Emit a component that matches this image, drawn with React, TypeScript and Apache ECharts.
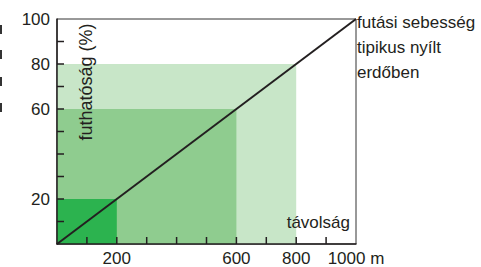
import React, { useEffect, useRef } from "react";
import * as echarts from "echarts";

const lineX = [0, 1000];
const lineY = [0, 100];
const zoneX = [800, 600, 200];
const zoneY = [80, 60, 20];
const zoneColors = ["#c8e6c8", "#8fcc8f", "#2cb34f"];
const xTicks = [100, 200, 300, 400, 500, 600, 700, 800, 900];
const yTicks = [10, 20, 30, 40, 50, 60, 70, 80, 90];
const xLabels: Record<number, string> = { 200: "200", 600: "600", 800: "800", 1000: "1000 m" };
const yLabels: Record<number, string> = { 20: "20", 60: "60", 80: "80", 100: "100" };
const noteLines = ["futási sebesség", "tipikus nyílt", "erdőben"];

export default function App() {
  const ref = useRef<HTMLDivElement>(null);
  useEffect(() => {
    const chart = echarts.init(ref.current!, undefined, { renderer: "svg" });
    const font = "Liberation Sans, Arial, sans-serif";
    const tickData = [
      ...xTicks.map((v) => [v, 0, 0]),
      ...yTicks.map((v) => [0, v, 1]),
    ];
    chart.setOption({
      animation: false,
      grid: { left: 57, right: 125, top: 19, bottom: 23, show: true, borderColor: "#333", borderWidth: 1 },
      xAxis: {
        type: "value", min: 0, max: 1000, interval: 100, z: 20,
        axisLine: { show: true, lineStyle: { color: "#231f20", width: 1.5 } },
        axisTick: { show: false },
        splitLine: { show: false },
        axisLabel: {
          formatter: (v: number) => xLabels[v] ?? "",
          color: "#231f20", fontSize: 17, fontFamily: font, margin: 6,
        },
      },
      yAxis: {
        type: "value", min: 0, max: 100, interval: 10, z: 20,
        axisLine: { show: true, lineStyle: { color: "#231f20", width: 1.5 } },
        axisTick: { show: false },
        splitLine: { show: false },
        axisLabel: {
          formatter: (v: number) => yLabels[v] ?? "",
          color: "#231f20", fontSize: 17, fontFamily: font, margin: 7,
        },
      },
      series: [
        {
          type: "custom",
          z: 1,
          silent: true,
          clip: false,
          data: zoneX.map((x, i) => [x, zoneY[i], i]),
          renderItem: (_params: any, api: any) => {
            const p0 = api.coord([0, 0]);
            const p1 = api.coord([api.value(0), api.value(1)]);
            return {
              type: "rect",
              shape: { x: p0[0], y: p1[1], width: p1[0] - p0[0], height: p0[1] - p1[1] },
              style: { fill: zoneColors[api.value(2)] },
            };
          },
        },
        {
          type: "line",
          data: lineX.map((x, i) => [x, lineY[i]]),
          showSymbol: false,
          lineStyle: { color: "#231f20", width: 2 },
          z: 5,
        },
        {
          type: "custom",
          z: 8,
          silent: true,
          clip: false,
          data: tickData,
          renderItem: (_params: any, api: any) => {
            const p = api.coord([api.value(0), api.value(1)]);
            const vertical = api.value(2) === 0;
            return {
              type: "rect",
              shape: vertical
                ? { x: p[0] - 0.75, y: p[1] - 7, width: 1.5, height: 7 }
                : { x: p[0], y: p[1] - 0.75, width: 7, height: 1.5 },
              style: { fill: "#231f20" },
            };
          },
        },
      ],
      graphic: [
        {
          type: "text", x: 86, y: 82, rotation: Math.PI / 2,
          style: { text: "futhatóság (%)", fill: "#231f20", font: `18px ${font}`, align: "center", verticalAlign: "middle" },
          z: 10,
        },
        {
          type: "text", x: 350, y: 222,
          style: { text: "távolság", fill: "#231f20", font: `17px ${font}`, align: "right", verticalAlign: "middle" },
          z: 10,
        },
        ...noteLines.map((t, i) => ({
          type: "text", x: 357, y: 22 + i * 25,
          style: { text: t, fill: "#231f20", font: `17px ${font}`, align: "left", verticalAlign: "middle" },
          z: 10,
        })),
        ...[25, 50, 77, 103].map((y) => ({
          type: "rect", shape: { x: 0, y, width: 2, height: 9 }, style: { fill: "#333" },
        })),
      ],
    });
    return () => chart.dispose();
  }, []);
  return <div ref={ref} style={{ width: 481, height: 267, position: "absolute", left: 0, top: 0 }} />;
}
